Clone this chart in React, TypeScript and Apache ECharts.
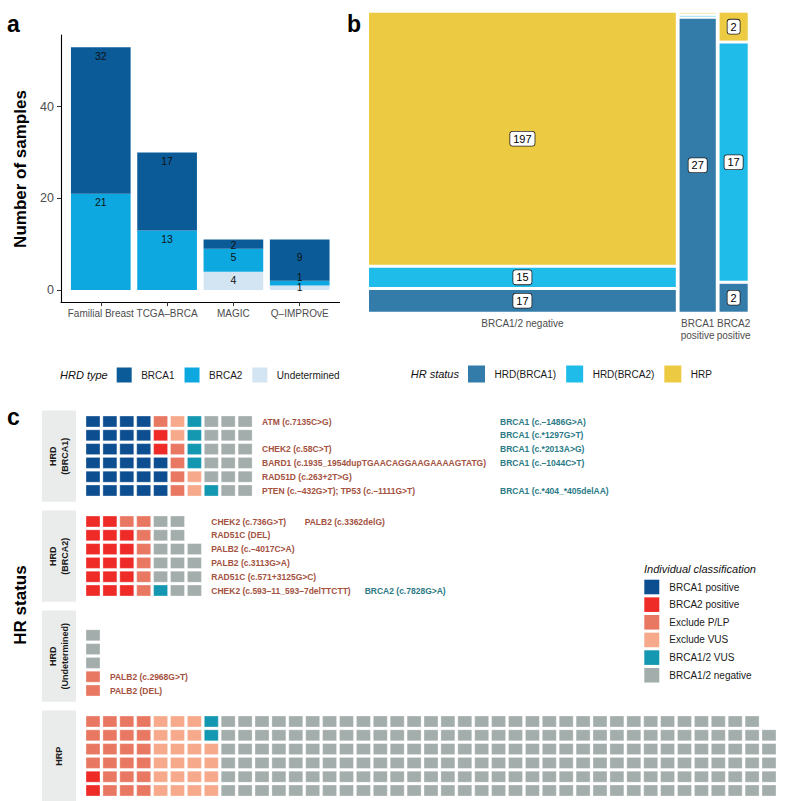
import React, { useEffect, useRef } from 'react';
import * as echarts from 'echarts';

const FONT = "'Liberation Sans', Arial, Helvetica, sans-serif";

// ---------------- Panel a data ----------------
const cohorts = ['Familial Breast', 'TCGA–BRCA', 'MAGIC', 'Q–IMPROvE'];
const hrdTypes = ['BRCA1', 'BRCA2', 'Undetermined'];
const hrdTypeColors = ['#0A5B97', '#0EA8E0', '#D3E5F3'];
const brca1Samples = [32, 17, 2, 9];
const brca2Samples = [21, 13, 5, 1];
const undeterminedSamples = [0, 0, 4, 1];
const sampleTicks = [0, 20, 40];

// ---------------- Panel b data ----------------
const geneStatus = ['BRCA1/2 negative', 'BRCA1\npositive', 'BRCA2\npositive'];
const hrStatus = ['HRD(BRCA1)', 'HRD(BRCA2)', 'HRP'];
const hrStatusColors = ['#337BA8', '#20BCE9', '#ECCA41'];
const hrdBrca1Counts = [17, 27, 2];
const hrdBrca2Counts = [15, 0, 17];
const hrpCounts = [197, 0, 2];

// ---------------- Panel c data ----------------
const classNames = ['BRCA1 positive', 'BRCA2 positive', 'Exclude P/LP', 'Exclude VUS', 'BRCA1/2 VUS', 'BRCA1/2 negative'];
const classCodes = ['B', 'R', 'P', 'X', 'V', 'N'];
const classColors = ['#0D4E90', '#EE2B27', '#E97862', '#F7A98B', '#1497B0', '#A3ADAC'];
const facetNames = ['HRD\n(BRCA1)', 'HRD\n(BRCA2)', 'HRD\n(Undetermined)', 'HRP'];

const hrdBrca1Cells = [
  [['B', 4], ['P', 1], ['X', 1], ['V', 1], ['N', 3]],
  [['B', 4], ['R', 1], ['X', 1], ['V', 1], ['N', 3]],
  [['B', 4], ['R', 1], ['P', 1], ['V', 1], ['N', 3]],
  [['B', 5], ['P', 1], ['V', 1], ['N', 3]],
  [['B', 5], ['P', 1], ['X', 1], ['N', 3]],
  [['B', 5], ['P', 1], ['X', 1], ['V', 1], ['N', 2]],
];
const hrdBrca2Cells = [
  [['R', 2], ['P', 2], ['N', 2]],
  [['R', 3], ['P', 1], ['N', 2]],
  [['R', 3], ['P', 1], ['N', 3]],
  [['R', 3], ['P', 1], ['N', 3]],
  [['R', 3], ['P', 1], ['N', 3]],
  [['R', 3], ['P', 1], ['V', 1], ['N', 2]],
];
const hrdUndeterminedCells = [
  [],
  [['N', 1]],
  [['N', 1]],
  [['N', 1]],
  [['P', 1]],
  [['P', 1]],
];
const hrpCells = [
  [['P', 4], ['X', 3], ['V', 1], ['N', 32]],
  [['P', 4], ['X', 3], ['V', 1], ['N', 33]],
  [['P', 4], ['X', 4], ['N', 33]],
  [['P', 4], ['X', 4], ['N', 33]],
  [['R', 1], ['P', 3], ['X', 4], ['N', 33]],
  [['R', 1], ['P', 3], ['X', 4], ['N', 33]],
];

const hrdBrca1PlpLabels = [
  ['ATM (c.7135C>G)'],
  [],
  ['CHEK2 (c.58C>T)'],
  ['BARD1 (c.1935_1954dupTGAACAGGAAGAAAAGTATG)'],
  ['RAD51D (c.263+2T>G)'],
  ['PTEN (c.–432G>T); TP53 (c.–1111G>T)'],
];
const hrdBrca1VusLabels = [
  ['BRCA1 (c.–1486G>A)'],
  ['BRCA1 (c.*1297G>T)'],
  ['BRCA1 (c.*2013A>G)'],
  ['BRCA1 (c.–1044C>T)'],
  [],
  ['BRCA1 (c.*404_*405delAA)'],
];
const hrdBrca2PlpLabels = [
  ['CHEK2 (c.736G>T)', 'PALB2 (c.3362delG)'],
  ['RAD51C (DEL)'],
  ['PALB2 (c.–4017C>A)'],
  ['PALB2 (c.3113G>A)'],
  ['RAD51C (c.571+3125G>C)'],
  ['CHEK2 (c.593–11_593–7delTTCTT)'],
];
const hrdBrca2VusLabels = [[], [], [], [], [], ['BRCA2 (c.7828G>A)']];
const hrdUndeterminedPlpLabels = [[], [], [], [], ['PALB2 (c.2968G>T)'], ['PALB2 (DEL)']];
const hrdUndeterminedVusLabels = [[], [], [], [], [], []];
const hrpPlpLabels = [[], [], [], [], [], []];
const hrpVusLabels = [[], [], [], [], [], []];

// ---------------- layout constants ----------------
const C_LEFT = 84.55;
const C_COL = 16.9;
const C_ROW = 13.8;
const C_TOP0 = 414.6;
const C_PITCH = 100;
const C_MAXCOLS = 41;
const C_ROWS = 6;

const PLP_COLOR = '#A4523F';
const VUS_COLOR = '#2B7A86';

function buildOption() {
  const ctx = document.createElement('canvas').getContext('2d') as CanvasRenderingContext2D;
  const measure = (t: string, font: string) => {
    ctx.font = font;
    return ctx.measureText(t).width;
  };

  const grids: any[] = [];
  const xAxes: any[] = [];
  const yAxes: any[] = [];
  const series: any[] = [];
  const graphics: any[] = [];

  // ================= Panel a =================
  const aValues = [brca1Samples, brca2Samples, undeterminedSamples];
  const totals = cohorts.map((_, i) => aValues.reduce((s, a) => s + a[i], 0));
  const maxTotal = Math.max(...totals);
  const pad = maxTotal * 0.05;
  grids.push({ left: 61, top: 35, width: 278.5, height: 267.1 });
  const cohortPos = cohorts.map((_, i) => i + 1);
  xAxes.push({
    gridIndex: 0, type: 'value', min: 0.4, max: 4.6,
    axisLine: { show: true, onZero: false, lineStyle: { color: '#000', width: 1.1 } },
    axisTick: { show: true, customValues: cohortPos, length: 4, lineStyle: { color: '#333', width: 1 } },
    axisLabel: {
      customValues: cohortPos, formatter: (v: number) => cohorts[Math.round(v) - 1] || '',
      fontSize: 10, color: '#4D4D4D', margin: 6, fontFamily: FONT,
    },
    splitLine: { show: false },
  });
  yAxes.push({
    gridIndex: 0, type: 'value', min: -pad, max: maxTotal + pad,
    axisLine: { show: true, onZero: false, lineStyle: { color: '#000', width: 1.1 } },
    axisTick: { show: true, customValues: sampleTicks, length: 4, lineStyle: { color: '#333', width: 1 } },
    axisLabel: { customValues: sampleTicks, fontSize: 12.5, color: '#4D4D4D', margin: 7, fontFamily: FONT },
    splitLine: { show: false },
  });
  // small vertical nudges (px) for a few crowded bar labels
  const barLabelNudge: Record<string, number> = {
    'BRCA1|MAGIC': -3,
    'BRCA1|Q–IMPROvE': 9.3,
    'BRCA2|Q–IMPROvE': -12.6,
    'Undetermined|Q–IMPROvE': -7.2,
  };
  // stack from bottom: Undetermined, BRCA2, BRCA1
  const aItems: any[] = [];
  cohorts.forEach((c, i) => {
    let base = 0;
    [2, 1, 0].forEach((k) => {
      const v = aValues[k][i];
      aItems.push({ x: i + 1, y0: base, y1: base + v, v, k, nudge: barLabelNudge[`${hrdTypes[k]}|${c}`] || 0 });
      base += v;
    });
  });
  const BAR_W = 0.9;
  series.push({
    type: 'custom', xAxisIndex: 0, yAxisIndex: 0, silent: true, clip: false,
    data: aItems.map((a) => [a.x, a.y0, a.y1]),
    encode: { x: 0, y: [1, 2] },
    renderItem: (params: any, api: any) => {
      const a = aItems[params.dataIndex];
      if (a.v === 0) return { type: 'group', children: [] };
      const p0 = api.coord([a.x - BAR_W / 2, a.y1]);
      const p1 = api.coord([a.x + BAR_W / 2, a.y0]);
      return {
        type: 'rect',
        shape: { x: p0[0], y: p0[1], width: p1[0] - p0[0], height: p1[1] - p0[1] },
        style: { fill: hrdTypeColors[a.k] },
      };
    },
  });
  series.push({
    type: 'custom', xAxisIndex: 0, yAxisIndex: 0, silent: true, clip: false,
    data: aItems.map((a) => [a.x, a.y1]),
    encode: { x: 0, y: 1 },
    renderItem: (params: any, api: any) => {
      const a = aItems[params.dataIndex];
      if (a.v === 0) return { type: 'group', children: [] };
      const p = api.coord([a.x, a.y1]);
      return {
        type: 'text', x: p[0], y: p[1] + 8.5 + a.nudge,
        style: {
          text: String(a.v), fill: '#111', font: `10.5px ${FONT}`,
          align: 'center', verticalAlign: 'middle', textAlign: 'center', textVerticalAlign: 'middle',
        },
      };
    },
  });

  // ================= Panel b (mosaic) =================
  const bCounts = [hrdBrca1Counts, hrdBrca2Counts, hrpCounts];
  const colTotals = geneStatus.map((_, j) => bCounts.reduce((s, a) => s + a[j], 0));
  const grand = colTotals.reduce((s, v) => s + v, 0);
  const OFF = 0.01;
  const usableX = 1 - OFF * (geneStatus.length - 1);
  const usableY = 1 - OFF * (hrStatus.length - 1);
  const tiles: any[] = [];
  const colCenters: number[] = [];
  let xc = 0;
  geneStatus.forEach((_, j) => {
    const w = (usableX * colTotals[j]) / grand;
    let yc = 0;
    hrStatus.forEach((__, k) => {
      const h = (usableY * bCounts[k][j]) / colTotals[j];
      tiles.push({ x0: xc, x1: xc + w, y0: yc, y1: yc + h, n: bCounts[k][j], k });
      yc += h + OFF;
    });
    colCenters.push(xc + w / 2);
    xc += w + OFF;
  });
  grids.push({ left: 369, top: 12.7, width: 378.7, height: 299 });
  xAxes.push({
    gridIndex: 1, type: 'value', min: 0, max: 1,
    axisLine: { show: false }, axisTick: { show: false }, splitLine: { show: false },
    axisLabel: {
      customValues: colCenters,
      formatter: (v: number) => {
        let best = 0;
        colCenters.forEach((c, i) => { if (Math.abs(c - v) < Math.abs(colCenters[best] - v)) best = i; });
        return geneStatus[best];
      },
      fontSize: 10, color: '#4D4D4D', lineHeight: 12, margin: 6, fontFamily: FONT,
    },
  });
  yAxes.push({ gridIndex: 1, type: 'value', min: 0, max: 1, show: false });
  series.push({
    type: 'custom', xAxisIndex: 1, yAxisIndex: 1, silent: true, clip: false,
    data: tiles.map((t) => [t.x0, t.y0, t.x1, t.y1]),
    encode: { x: [0, 2], y: [1, 3] },
    renderItem: (params: any, api: any) => {
      const t = tiles[params.dataIndex];
      const p0 = api.coord([t.x0, t.y1]);
      const p1 = api.coord([t.x1, t.y0]);
      const color = hrStatusColors[t.k];
      if (t.n === 0) {
        return {
          type: 'rect',
          shape: { x: p0[0], y: p0[1], width: p1[0] - p0[0], height: 1.3 },
          style: { fill: color, opacity: 0.35 },
        };
      }
      return {
        type: 'group',
        children: [
          { type: 'rect', shape: { x: p0[0], y: p0[1], width: p1[0] - p0[0], height: p1[1] - p0[1] }, style: { fill: color } },
          {
            type: 'text', x: (p0[0] + p1[0]) / 2, y: (p0[1] + p1[1]) / 2,
            style: {
              text: String(t.n), fill: '#000', font: `11px ${FONT}`,
              align: 'center', verticalAlign: 'middle', textAlign: 'center', textVerticalAlign: 'middle',
              backgroundColor: '#fff', borderColor: '#222', borderWidth: 0.8, borderRadius: 2.5,
              padding: [2, 3, 1, 3],
            },
          },
        ],
      };
    },
  });

  // ================= Panel c (waffles) =================
  const facets = [
    { cells: hrdBrca1Cells, plp: hrdBrca1PlpLabels, vus: hrdBrca1VusLabels },
    { cells: hrdBrca2Cells, plp: hrdBrca2PlpLabels, vus: hrdBrca2VusLabels },
    { cells: hrdUndeterminedCells, plp: hrdUndeterminedPlpLabels, vus: hrdUndeterminedVusLabels },
    { cells: hrpCells, plp: hrpPlpLabels, vus: hrpVusLabels },
  ];
  const labelFont = `bold 8.5px ${FONT}`;
  facets.forEach((f, fi) => {
    const gi = 2 + fi;
    const top = C_TOP0 + C_PITCH * fi;
    grids.push({ left: C_LEFT, top, width: C_COL * C_MAXCOLS, height: C_ROW * C_ROWS });
    xAxes.push({ gridIndex: gi, type: 'value', min: 0, max: C_MAXCOLS, show: false });
    yAxes.push({ gridIndex: gi, type: 'value', min: 0, max: C_ROWS, inverse: true, show: false });

    const cellItems: number[][] = [];
    let maxCols = 0;
    f.cells.forEach((row: any[], r: number) => {
      let col = 0;
      row.forEach(([code, n]: any) => {
        const ci = classCodes.indexOf(code);
        for (let k = 0; k < n; k++) {
          cellItems.push([col, r, ci]);
          col++;
        }
      });
      maxCols = Math.max(maxCols, col);
    });
    series.push({
      type: 'custom', xAxisIndex: gi, yAxisIndex: gi, silent: true, clip: false,
      data: cellItems,
      encode: { x: 0, y: 1 },
      renderItem: (params: any, api: any) => {
        const d = cellItems[params.dataIndex];
        const p = api.coord([d[0], d[1]]);
        const s = api.size([1, 1]);
        return {
          type: 'rect',
          shape: { x: p[0] + 1.45, y: p[1] + 1.4, width: s[0] - 2.9, height: s[1] - 2.8 },
          style: { fill: classColors[d[2]], stroke: 'rgba(255,255,255,0.55)', lineWidth: 0.6 },
        };
      },
    });

    // labels
    const labelItems: any[] = [];
    const baseX = maxCols + 0.5;
    let maxPlp = 0;
    f.plp.forEach((row: string[]) => row.forEach((t) => { maxPlp = Math.max(maxPlp, measure(t, labelFont)); }));
    f.plp.forEach((row: string[], r: number) => {
      let off = 0;
      row.forEach((t) => {
        labelItems.push({ x: baseX, y: r + 0.5, off, text: t, color: PLP_COLOR });
        off += measure(t, labelFont) + 18.5;
      });
    });
    f.vus.forEach((row: string[], r: number) => {
      let off = maxPlp > 0 ? maxPlp + 14 : 0;
      row.forEach((t) => {
        labelItems.push({ x: baseX, y: r + 0.5, off, text: t, color: VUS_COLOR });
        off += measure(t, labelFont) + 18.5;
      });
    });
    if (labelItems.length) {
      series.push({
        type: 'custom', xAxisIndex: gi, yAxisIndex: gi, silent: true, clip: false,
        data: labelItems.map((l) => [l.x, l.y]),
        encode: { x: 0, y: 1 },
        renderItem: (params: any, api: any) => {
          const l = labelItems[params.dataIndex];
          const p = api.coord([l.x, l.y]);
          return {
            type: 'text', x: p[0] + l.off, y: p[1],
            style: {
              text: l.text, fill: l.color, font: labelFont,
              align: 'left', verticalAlign: 'middle', textAlign: 'left', textVerticalAlign: 'middle',
            },
          };
        },
      });
    }

    // strip
    graphics.push({
      type: 'rect', shape: { x: 42, y: top - 4, width: 34, height: C_ROW * C_ROWS + 8.4 },
      style: { fill: '#EAEBEB' }, silent: true,
    });
    graphics.push({
      type: 'text', x: 59, y: top - 4 + (C_ROW * C_ROWS + 8.4) / 2, rotation: Math.PI / 2,
      style: {
        text: facetNames[fi], font: `bold 9px ${FONT}`, fill: '#1A1A1A', lineHeight: 11.5,
        align: 'center', verticalAlign: 'middle', textAlign: 'center', textVerticalAlign: 'middle',
      },
      silent: true,
    });
  });

  // ================= Texts & legends =================
  const txt = (text: string, x: number, y: number, font: string, extra: any = {}) => ({
    type: 'text', x, y, silent: true, rotation: extra.rotation || 0,
    style: {
      text, font, fill: extra.fill || '#000',
      align: extra.align || 'left', textAlign: extra.align || 'left',
      verticalAlign: 'middle', textVerticalAlign: 'middle',
    },
  });
  graphics.push(txt('a', 7, 24, `bold 23px ${FONT}`));
  graphics.push(txt('b', 347, 23.7, `bold 23px ${FONT}`));
  graphics.push(txt('c', 7, 417, `bold 23px ${FONT}`));
  graphics.push(txt('Number of samples', 20.5, 169, `bold 17px ${FONT}`, { rotation: Math.PI / 2, align: 'center' }));
  graphics.push(txt('HR status', 20, 605, `bold 17px ${FONT}`, { rotation: Math.PI / 2, align: 'center' }));

  const legendLabelFont = `10px ${FONT}`;
  const hLegend = (title: string, names: string[], colors: string[], startX: number, cy: number, key: number) => {
    const titleFont = `italic 11px ${FONT}`;
    graphics.push(txt(title, startX, cy, titleFont, { fill: '#111' }));
    let x = startX + measure(title, titleFont) + 9;
    names.forEach((n, i) => {
      graphics.push({ type: 'rect', silent: true, shape: { x, y: cy - key / 2, width: key, height: key }, style: { fill: colors[i] } });
      x += key + 9.5;
      graphics.push(txt(n, x, cy, legendLabelFont, { fill: '#1A1A1A' }));
      x += measure(n, legendLabelFont) + 10;
    });
  };
  hLegend('HRD type', hrdTypes, hrdTypeColors, 60, 375, 15);
  hLegend('HR status', hrStatus, hrStatusColors, 410.7, 374, 17);

  // vertical legend for panel c
  graphics.push(txt('Individual classification', 644, 568.5, `italic 11px ${FONT}`, { fill: '#111' }));
  classNames.forEach((n, i) => {
    const cy = 587 + 17.65 * i;
    graphics.push({ type: 'rect', silent: true, shape: { x: 644.3, y: cy - 7.3, width: 15, height: 14.6 }, style: { fill: classColors[i] } });
    graphics.push(txt(n, 669.3, cy, legendLabelFont, { fill: '#1A1A1A' }));
  });

  return {
    animation: false,
    backgroundColor: '#fff',
    textStyle: { fontFamily: FONT },
    grid: grids,
    xAxis: xAxes,
    yAxis: yAxes,
    series,
    graphic: { elements: graphics },
  };
}

export default function App() {
  const ref = useRef<HTMLDivElement>(null);
  useEffect(() => {
    if (!ref.current) return;
    const chart = echarts.init(ref.current, null, { renderer: 'svg' });
    chart.setOption(buildOption() as any);
    return () => chart.dispose();
  }, []);
  return (
    <div
      ref={ref}
      style={{ position: 'absolute', left: 0, top: 0, width: 785, height: 801, background: '#fff' }}
    />
  );
}
